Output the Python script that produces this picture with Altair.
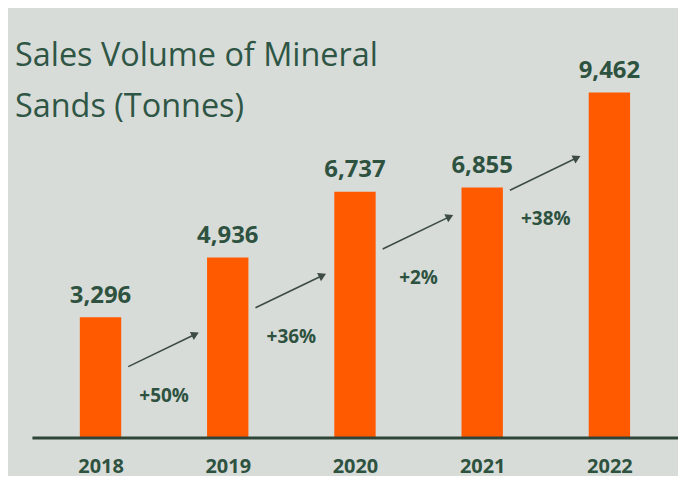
import altair as alt
import pandas as pd

years = ["2018", "2019", "2020", "2021", "2022"]
volumes = [3296, 4936, 6737, 6855, 9462]
growth = ["+50%", "+36%", "+2%", "+38%"]
title_lines = ["Sales Volume of Mineral", "Sands (Tonnes)"]

TEXT = "#2e5240"
BAR = "#ff5a00"
BG = "#d8dcd9"
ARROW = "#3c4b45"

bars_df = pd.DataFrame({
    "idx": list(range(len(years))),
    "year": years,
    "volume": volumes,
    "label": [f"{v:,}" for v in volumes],
})

# staircase annotation levels (data units) for growth arrows
step = 1613
g_rows = []
for i, g in enumerate(growth):
    g_rows.append({
        "label": g,
        "x0": i + 0.218,
        "x1": i + 0.745,
        "y0": 1942 + i * step,
        "y1": 2830 + i * step,
        "xl": i + 0.5,
        "yl": 1149 + i * step,
    })
growth_df = pd.DataFrame(g_rows)

label_expr = "[" + ",".join(f"'{y}'" for y in years) + "][datum.value]"

xscale = alt.Scale(domain=[-0.5, len(years) - 0.5], nice=False, zero=False)
yscale = alt.Scale(domain=[0, max(volumes)], nice=False, zero=True)

x_axis = alt.Axis(
    values=list(range(len(years))), labelExpr=label_expr, title=None,
    grid=False, ticks=False, tickSize=0, domainColor="#2f4538", domainWidth=3,
    labelFont="Open Sans", labelFontWeight="bold", labelFontSize=20,
    labelColor=TEXT, labelPadding=35, labelBaseline="alphabetic", zindex=1,
)

base = alt.Chart(bars_df)

bars = base.mark_bar(size=41.5, color=BAR).encode(
    x=alt.X("idx:Q", scale=xscale, axis=x_axis),
    y=alt.Y("volume:Q", scale=yscale, axis=None),
)

values = base.mark_text(
    font="Open Sans", fontWeight="bold", fontSize=24, color=TEXT,
    baseline="alphabetic", dy=-14.5,
).encode(x="idx:Q", y="volume:Q", text="label:N")

arrows = alt.Chart(growth_df).mark_rule(color=ARROW, strokeWidth=1.6).encode(
    x="x0:Q", x2="x1:Q", y="y0:Q", y2="y1:Q",
)
heads = alt.Chart(growth_df).mark_point(
    shape="triangle-right", filled=True, color=ARROW, opacity=1, size=80, angle=334,
).encode(x="x1:Q", y="y1:Q")

glabels = alt.Chart(growth_df).mark_text(
    font="Open Sans", fontWeight="bold", fontSize=19, color=TEXT, baseline="middle",
).encode(x="xl:Q", y="yl:Q", text="label:N")

title_layers = []
for line, ypos in zip(title_lines, [-27, 25]):
    title_layers.append(
        alt.Chart(pd.DataFrame({"line": [line]})).mark_text(
            font="Open Sans", fontSize=32.5, color="#2f5645",
            align="left", baseline="alphabetic",
        ).encode(x=alt.value(-17), y=alt.value(ypos), text="line:N")
    )

chart = alt.layer(bars, values, arrows, heads, glabels, *title_layers).properties(
    width=648, height=346,
    autosize=alt.AutoSizeParams(type="none"),
    padding={"left": 24, "top": 84, "right": 0, "bottom": 38},
    background=BG,
).configure_view(strokeWidth=0)

chart.save("out.html", embed_options={"renderer": "svg", "actions": False})
